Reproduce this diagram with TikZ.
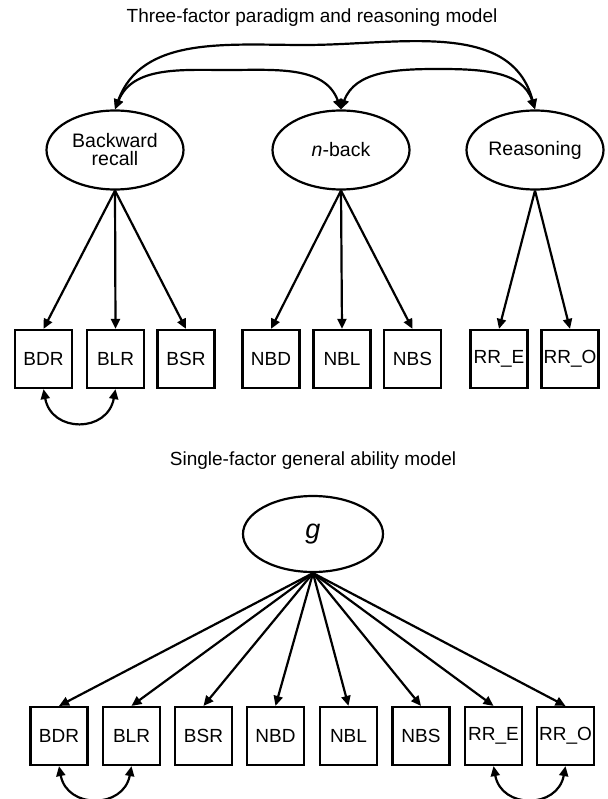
\documentclass[tikz,border=0pt]{standalone}
\usepackage{fontspec}
\setmainfont{Liberation Sans}
\usetikzlibrary{shapes.geometric,arrows.meta}

\begin{document}
\begin{tikzpicture}[x=1pt,y=-1pt,
  line width=2.2pt,
  >={Triangle[length=10pt,width=9pt]},
  latent/.style={ellipse,draw,minimum width=137pt,minimum height=79pt,inner sep=0pt,
    font=\fontsize{19.5}{21}\selectfont,align=center},
  observed/.style={rectangle,draw,minimum width=57pt,minimum height=58pt,inner sep=0pt,
    font=\fontsize{19}{20}\selectfont},
  heading/.style={font=\fontsize{19}{21}\selectfont},
  load/.style={->},
  cov/.style={<->}]

\useasboundingbox (0,0) rectangle (607,799);

% ---------------- three-factor model ----------------
\node[heading] (title1) at (312,18) {Three-factor paradigm and reasoning model};

\node[latent] (bw) at (115,150) {Backward\\[-3pt]recall};
\node[latent] (nb) at (341,150) {\textit{n}-back};
\node[latent] (rs) at (535,150) {Reasoning};

\node[observed] (bdr1) at (43.5,359) {BDR};
\node[observed] (blr1) at (115.5,359) {BLR};
\node[observed] (bsr1) at (186,359) {BSR};
\node[observed] (nbd1) at (271,359) {NBD};
\node[observed] (nbl1) at (342,359) {NBL};
\node[observed] (nbs1) at (412.5,359) {NBS};
\node[observed] (rre1) at (499,359) {RR\_E};
\node[observed] (rro1) at (570,359) {RR\_O};

% factor loadings
\foreach \b in {bdr1,blr1,bsr1} \draw[load] (bw.south) -- (\b.north);
\foreach \b in {nbd1,nbl1,nbs1} \draw[load] (nb.south) -- (\b.north);
\foreach \b in {rre1,rro1} \draw[load] (rs.south) -- (\b.north);

% factor covariances
\coordinate (peakBR) at (305,45);
\coordinate (peakBN) at (228,70);
\coordinate (peakNR) at (438,69);
\draw[cov] (bw.north) to[out=70,in=180] (peakBR) to[out=0,in=105] (rs.north);
\draw[cov] (bw.north) to[out=68,in=180] (peakBN) to[out=0,in=110] (nb.north);
\draw[cov] (nb.north) to[out=70,in=180] (peakNR) to[out=0,in=108] (rs.north);

% residual covariance
\draw[cov] (bdr1.south) .. controls +(8,44) and +(-8,44) .. (blr1.south);

% ---------------- single-factor model ----------------
\node[heading] (title2) at (313,461) {Single-factor general ability model};

\node[latent,minimum width=140pt,minimum height=76pt,font=\fontsize{27}{29}\selectfont]
  (g) at (313,534) {\textit{g}};

\node[observed] (bdr2) at (59,736) {BDR};
\node[observed] (blr2) at (131.5,736) {BLR};
\node[observed] (bsr2) at (203.5,736) {BSR};
\node[observed] (nbd2) at (275.5,736) {NBD};
\node[observed] (nbl2) at (348.5,736) {NBL};
\node[observed] (nbs2) at (421,736) {NBS};
\node[observed] (rre2) at (493.5,736) {RR\_E};
\node[observed] (rro2) at (565.5,736) {RR\_O};

\foreach \b in {bdr2,blr2,bsr2,nbd2,nbl2,nbs2,rre2,rro2}
  \draw[load] (g.south) -- (\b.north);

\draw[cov] (bdr2.south) .. controls +(8,43) and +(-8,43) .. (blr2.south);
\draw[cov] (rre2.south) .. controls +(8,43) and +(-8,43) .. (rro2.south);

\end{tikzpicture}
\end{document}
